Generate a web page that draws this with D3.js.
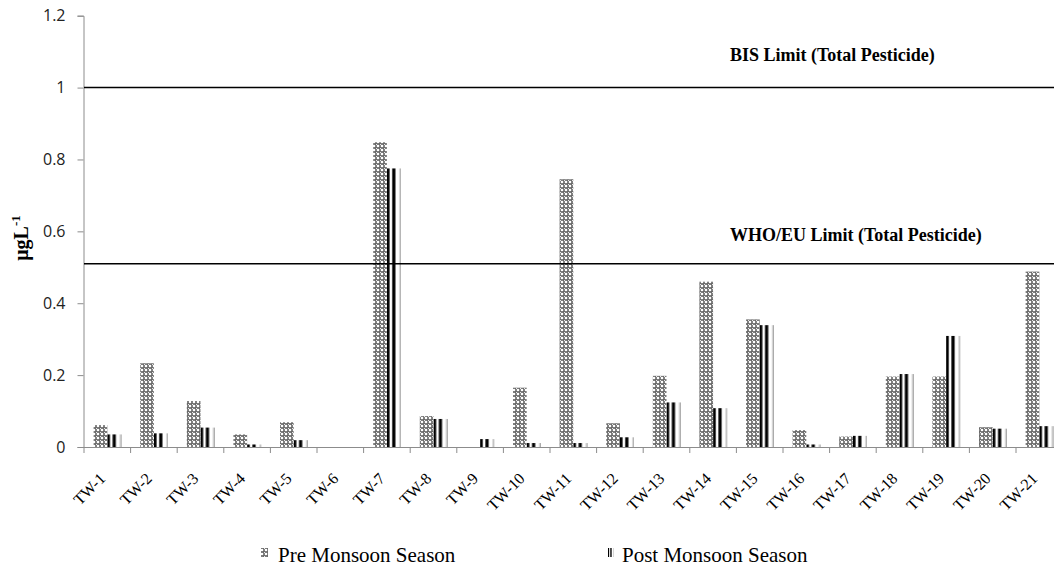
<!DOCTYPE html>
<html><head><meta charset="utf-8">
<script src="https://cdn.jsdelivr.net/npm/d3@7"></script>
<style>body{margin:0;background:#fff}svg{display:block}</style>
</head><body>
<svg id="c" width="1054" height="569"></svg>
<script>
const categories = ["TW-1","TW-2","TW-3","TW-4","TW-5","TW-6","TW-7","TW-8","TW-9","TW-10","TW-11","TW-12","TW-13","TW-14","TW-15","TW-16","TW-17","TW-18","TW-19","TW-20","TW-21"];
const preMonsoon  = [0.061,0.233,0.128,0.035,0.069,0,0.848,0.086,0,0.165,0.745,0.066,0.198,0.46,0.355,0.047,0.029,0.196,0.196,0.055,0.488];
const postMonsoon = [0.035,0.038,0.054,0.007,0.019,0,0.775,0.078,0.022,0.011,0.011,0.027,0.124,0.108,0.339,0.007,0.031,0.203,0.309,0.051,0.058];
const yTicks = [0,0.2,0.4,0.6,0.8,1,1.2];
const limitValues = [1.0, 0.51];
const limitLabels = ["BIS Limit (Total Pesticide)","WHO/EU Limit (Total Pesticide)"];
const seriesNames = ["Pre Monsoon Season","Post Monsoon Season"];

const svg = d3.select("#c");
const pLeft = 84, pBottom = 447, pTop = 15.7, pRight = 84 + 21*46.6;
const x = d3.scaleBand().domain(categories).range([pLeft, pRight]).paddingInner(0).paddingOuter(0);
const y = d3.scaleLinear().domain([0,1.2]).range([pBottom, pTop]);

const defs = svg.append("defs");
const pp = defs.append("pattern").attr("id","pre").attr("patternUnits","userSpaceOnUse").attr("width",4).attr("height",4);
pp.append("rect").attr("width",4).attr("height",4).attr("fill","#6a6a6a");
pp.append("circle").attr("cx",2).attr("cy",2).attr("r",1.3).attr("fill","#fff");
pp.append("rect").attr("x",0).attr("y",0).attr("width",1).attr("height",1).attr("fill","#e8e8e8");
const po = defs.append("pattern").attr("id","post").attr("patternUnits","objectBoundingBox").attr("patternContentUnits","objectBoundingBox").attr("width",1).attr("height",1);
po.append("rect").attr("width",1).attr("height",1).attr("fill","#fff");
po.append("rect").attr("x",0).attr("width",0.19).attr("height",1).attr("fill","#000");
po.append("rect").attr("x",0.38).attr("width",0.23).attr("height",1).attr("fill","#000");
po.append("rect").attr("x",0.9).attr("width",0.08).attr("height",1).attr("fill","#aaa");

// y axis
const yAxis = d3.axisLeft(y).tickValues(yTicks).tickSize(6).tickPadding(12).tickFormat(d=>d3.format("")(d));
const gy = svg.append("g").attr("transform",`translate(${pLeft-0.5},0)`).call(yAxis);
gy.select(".domain").attr("stroke","#8c8c8c");
gy.selectAll(".tick line").attr("stroke","#8c8c8c");
gy.selectAll(".tick text").attr("font-family","'Open Sans', 'DejaVu Sans', sans-serif").attr("font-size",16).attr("fill","#222");

// bars
const bw = 13.7;
const g = svg.append("g");
categories.forEach((c,i)=>{
  const cx = x(c) + x.bandwidth()/2;
  g.append("rect").attr("x",cx-bw).attr("width",bw).attr("y",y(preMonsoon[i])).attr("height",pBottom-y(preMonsoon[i])).attr("fill","url(#pre)");
  g.append("rect").attr("x",cx).attr("width",bw+0.3).attr("y",y(postMonsoon[i])).attr("height",pBottom-y(postMonsoon[i])).attr("fill","url(#post)");
});

// x axis
const xAxis = d3.axisBottom(x).tickSize(0).tickFormat(d=>d);
const gx = svg.append("g").attr("transform",`translate(0,${pBottom+0.5})`).call(xAxis);
gx.select(".domain").attr("stroke","#8c8c8c").attr("d",`M${pLeft-0.5},0H${pRight}`);
gx.selectAll(".tick text").attr("font-family","'Liberation Serif', serif").attr("font-size",16).attr("fill","#000")
  .attr("text-anchor","end").attr("dy",0).attr("y",0)
  .attr("transform","translate(-1,32) rotate(-45)");
// boundary ticks
const bounds = categories.map(c=>x(c)).concat([pRight]);
svg.append("g").selectAll("line").data(bounds).join("line")
  .attr("x1",d=>d).attr("x2",d=>d).attr("y1",pBottom).attr("y2",pBottom+6).attr("stroke","#8c8c8c");

// limit lines
const labelOffsets = [-27, -23];
limitValues.forEach((v,i)=>{
  svg.append("line").attr("x1",pLeft).attr("x2",1054).attr("y1",y(v)).attr("y2",y(v)).attr("stroke","#000").attr("stroke-width",1.5);
  svg.append("text").attr("x",730).attr("y",y(v)+labelOffsets[i]).attr("font-family","'Liberation Serif', serif").attr("font-weight","bold").attr("font-size",18).text(limitLabels[i]);
});

// y title
const yt = svg.append("text").attr("transform","translate(28,238) rotate(-90)").attr("text-anchor","middle")
  .attr("font-family","'Liberation Serif', serif").attr("font-weight","bold").attr("font-size",20);
yt.append("tspan").text("μgL");
yt.append("tspan").attr("dy",-8).attr("font-size",13).text("-1");

// legend
const leg = [{x:261,tx:278,id:"pre",w:7},{x:608,tx:622,id:"post",w:6}];
leg.forEach((l,i)=>{
  svg.append("rect").attr("x",l.x).attr("y",548).attr("width",l.w).attr("height",9).attr("fill",`url(#${l.id})`);
  svg.append("text").attr("x",l.tx).attr("y",562).attr("font-family","'Liberation Serif', serif").attr("font-size",21).text(seriesNames[i]);
});
</script>
</body></html>
